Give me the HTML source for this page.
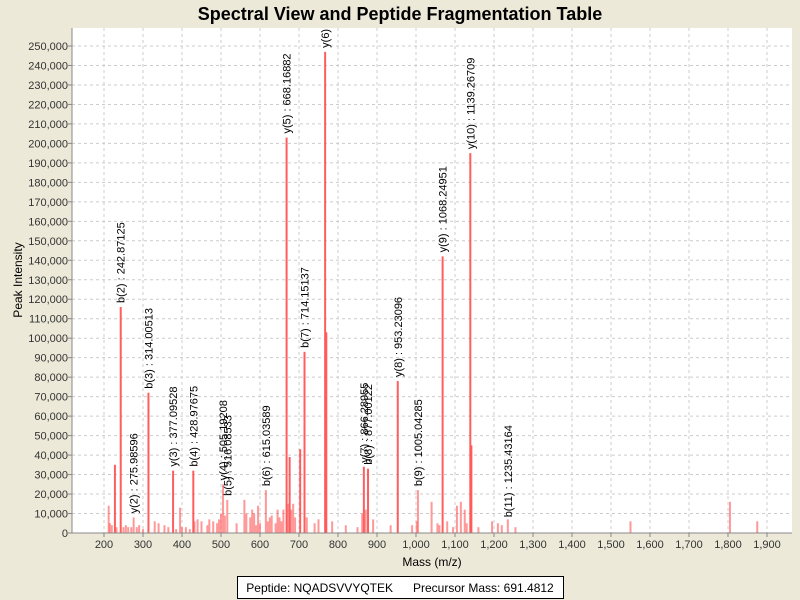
<!DOCTYPE html>
<html><head><meta charset="utf-8"><style>
body{margin:0;background:#ece9d8;font-family:"Liberation Sans",sans-serif;overflow:hidden}
svg{display:block}
svg text{font-family:"Liberation Sans",sans-serif}
</style></head><body>
<svg id="chart" width="800" height="600">
<defs><clipPath id="pc"><rect x="72" y="28" width="720" height="505"/></clipPath></defs>
<rect x="0" y="0" width="800" height="600" fill="#ece9d8"/>
<text x="400" y="20" text-anchor="middle" font-size="18" font-weight="bold">Spectral View and Peptide Fragmentation Table</text>
<rect x="72" y="28" width="720" height="505" fill="#fff"/>
<g id="grid"></g><g id="peaks"></g><g id="labels" clip-path="url(#pc)"></g><g id="axes"></g>
<text transform="translate(22,280) rotate(-90)" text-anchor="middle" font-size="12">Peak Intensity</text>
<text x="432" y="566" text-anchor="middle" font-size="12">Mass (m/z)</text>
<g>
<rect x="237.5" y="576.5" width="326" height="22" fill="#fff" stroke="#000"/>
<text x="400" y="592" text-anchor="middle" font-size="12" xml:space="preserve">Peptide: NQADSVVYQTEK      Precursor Mass: 691.4812</text>
</g>
</svg>
<script>
const xTicks=[200,300,400,500,600,700,800,900,1000,1100,1200,1300,1400,1500,1600,1700,1800,1900];
const yTicks=[0,10000,20000,30000,40000,50000,60000,70000,80000,90000,100000,110000,120000,130000,140000,150000,160000,170000,180000,190000,200000,210000,220000,230000,240000,250000];
const peakMz=[212,215,220,228,232,242.87,250,256,262,270,275.99,284,290,300,314,330,340,355,365,377.1,385,395,400,410,420,428.98,432,440,450,465,470,480,490,495,500,505.19,510,516.08,540,560,565,575,580,585,590,595,600,615.04,620,625,630,640,645,650,655,660,668.17,672,676,680,685,690,703,714.15,720,740,750,767,770,785,820,850,862,866.29,871,877,890,935,953.23,990,1002,1005.04,1040,1055,1060,1068.25,1080,1095,1105,1115,1125,1130,1139.27,1142,1160,1195,1210,1220,1235.43,1255,1550,1805,1875];
const peakInt=[14000,5000,4000,35000,3000,116000,3000,4000,3000,3000,8000,3000,4000,2000,72000,6000,5000,4000,3000,32000,2000,13000,3000,3000,2000,32000,6000,7000,6000,4000,7000,6000,5000,7000,10000,25000,9000,17000,5000,17000,10000,8000,12000,10000,4000,14000,5000,22000,6000,8000,9000,5000,12000,8000,6000,12000,203000,15000,39000,12000,15000,8000,43000,93000,8000,5000,7000,247000,103000,6000,4000,3000,10000,34000,12000,33000,7000,4000,78000,4000,6000,22000,16000,5000,4000,142000,6000,3000,14000,16000,12000,5000,195000,45000,3000,6000,5000,4000,7000,3000,6000,16000,6000];
const labelMz=[242.87125,275.98596,314.00513,377.09528,428.97675,505.19208,516.08533,615.03589,668.16882,714.15137,767,866.28955,877.00122,953.23096,1005.04285,1068.24951,1139.26709,1235.43164];
const labelText=["b(2) : 242.87125","y(2) : 275.98596","b(3) : 314.00513","y(3) : 377.09528","b(4) : 428.97675","y(4) : 505.19208","b(5) : 516.08533","b(6) : 615.03589","y(5) : 668.16882","b(7) : 714.15137","y(6) : 767.09","y(7) : 866.28955","b(8) : 877.00122","y(8) : 953.23096","b(9) : 1005.04285","y(9) : 1068.24951","y(10) : 1139.26709","b(11) : 1235.43164"];
const labelInt=[116000,8000,72000,32000,32000,25000,17000,22000,203000,93000,247000,34000,33000,78000,22000,142000,195000,6000];
const NS="http://www.w3.org/2000/svg";
const X0=72,X1=792,Y0=533,Y1=28;
function xs(m){return 104+(m-200)*0.39;}
function ys(v){return Y0-v*487/250000;}
function mk(t,a,p){const e=document.createElementNS(NS,t);for(const k in a)e.setAttribute(k,a[k]);p.appendChild(e);return e;}
const G=document.getElementById('grid'),P=document.getElementById('peaks'),L=document.getElementById('labels'),A=document.getElementById('axes');
xTicks.forEach(t=>{const x=xs(t);
 const g=mk('line',{x1:x,x2:x,y1:Y1,y2:Y0,stroke:'#ccc','stroke-dasharray':'3,3'},G);
 
 
 const tk=mk('line',{x1:x,x2:x,y1:Y0,y2:Y0+4,stroke:'#888'},A);
 
 
 const tx=mk('text',{x:x,y:Y0+15,'text-anchor':'middle','font-size':'11',fill:'#333'},A);
 tx.textContent=t.toLocaleString('en-US');
 
 });
yTicks.forEach(t=>{const y=ys(t);
 const g=mk('line',{x1:X0,x2:X1,y1:y,y2:y,stroke:'#ccc','stroke-dasharray':'3,3'},G);
 
 
 const tk=mk('line',{x1:X0-4,x2:X0,y1:y,y2:y,stroke:'#888'},A);
 
 
 const tx=mk('text',{x:X0-4,y:y+4,'text-anchor':'end','font-size':'11',fill:'#333'},A);
 tx.textContent=t.toLocaleString('en-US');
 
 });
const ax=mk('path',{d:`M${X0},${Y1}V${Y0}H${X1}`,stroke:'#888',fill:'none'},A);


peakMz.forEach((m,i)=>{const x=xs(m);
 const r=mk('rect',{x:x-1,y:ys(peakInt[i]),width:2,height:Y0-ys(peakInt[i]),fill:'#ff5555',opacity:peakInt[i]>30000?0.95:0.6},P);
 
 });
labelMz.forEach((m,i)=>{const x=xs(m)+4,y=ys(labelInt[i])-4;
 const t=mk('text',{transform:`translate(${x},${y}) rotate(-90)`,'font-size':'11'},L);
 t.textContent=labelText[i];
 
 });
</script>
</body></html>
